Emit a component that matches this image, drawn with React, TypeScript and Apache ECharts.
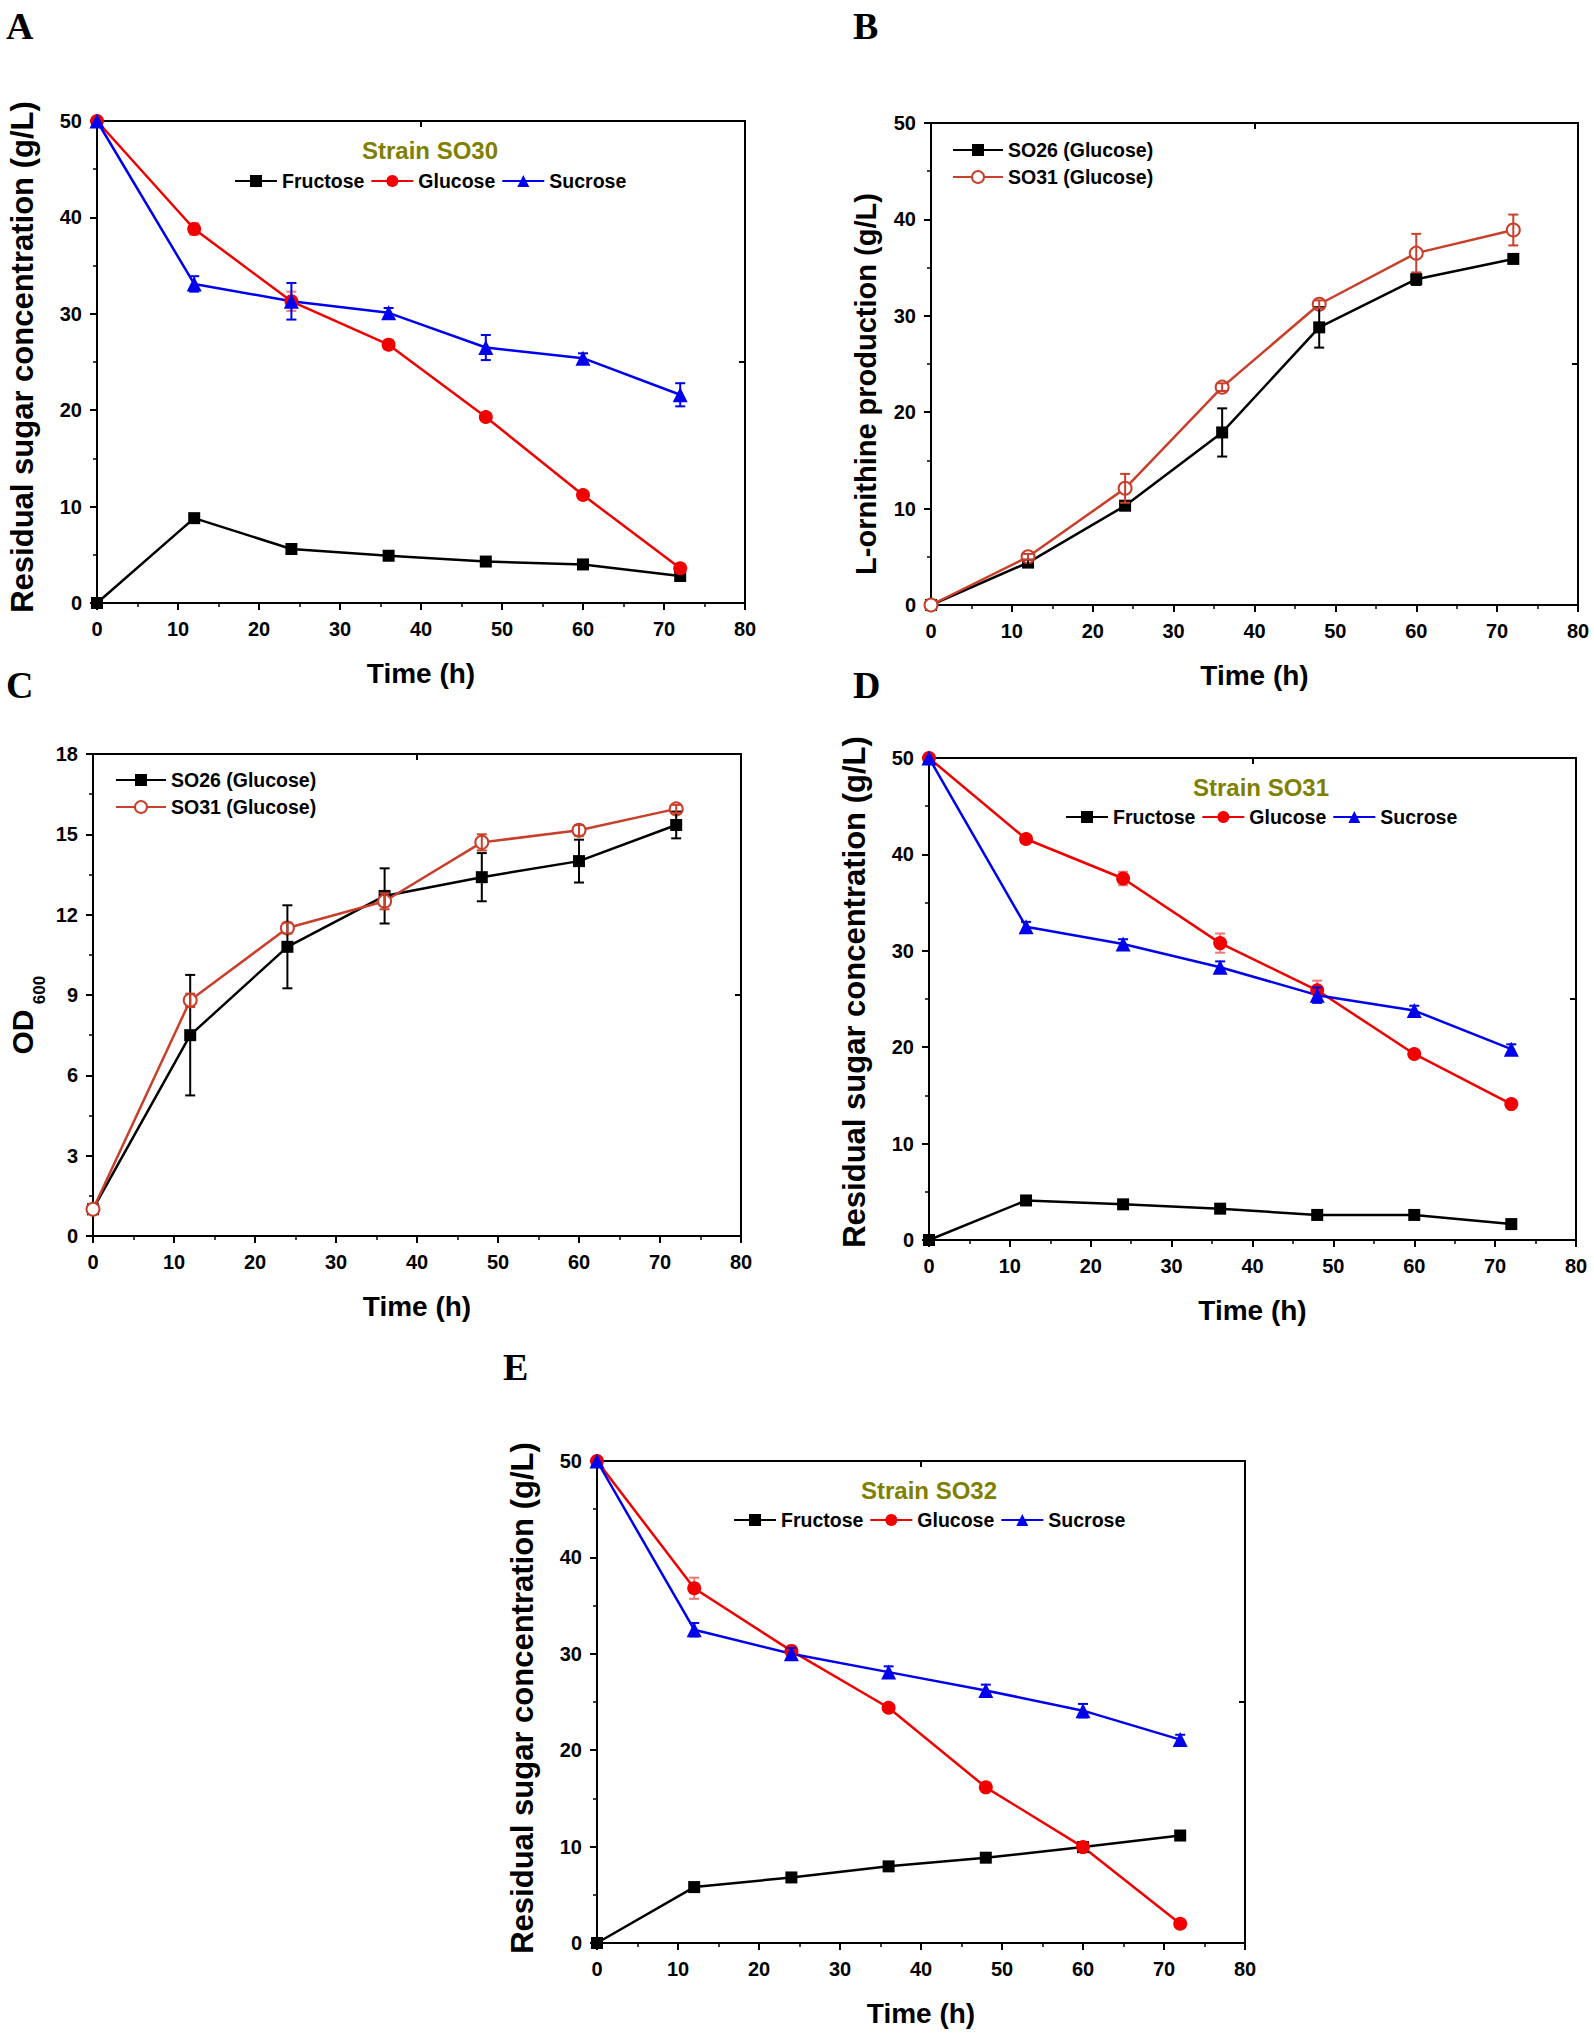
import React, { useEffect, useRef } from 'react';
import * as echarts from 'echarts';

// ---------------- data ----------------
const TIME = [0, 12, 24, 36, 48, 60, 72];
const X_TICKS_MAX = 80;

// Panel A – Strain SO30
const A_FRU = [0, 8.8, 5.6, 4.9, 4.3, 4.0, 2.8];
const A_FRU_ERR = [0, 0.3, 0.3, 0.2, 0.2, 0.2, 0.2];
const A_GLU = [50, 38.8, 31.3, 26.8, 19.3, 11.2, 3.6];
const A_GLU_ERR = [0, 0.6, 1.0, 0.4, 0.3, 0.3, 0.3];
const A_SUC = [50, 33.1, 31.3, 30.1, 26.5, 25.4, 21.6];
const A_SUC_ERR = [0, 0.8, 1.9, 0.5, 1.3, 0.5, 1.2];

// Panel B – L-ornithine production
const B_SO26 = [0, 4.4, 10.3, 17.9, 28.8, 33.8, 35.9];
const B_SO26_ERR = [0, 0.3, 0.4, 2.5, 2.1, 0.6, 0.4];
const B_SO31 = [0, 5.0, 12.1, 22.6, 31.2, 36.5, 38.9];
const B_SO31_ERR = [0, 0.3, 1.5, 0.4, 0.4, 2.0, 1.6];

// Panel C – OD600
const C_SO26 = [1.0, 7.5, 10.8, 12.7, 13.4, 14.0, 15.35];
const C_SO26_ERR = [0, 2.25, 1.55, 1.03, 0.9, 0.8, 0.5];
const C_SO31 = [1.0, 8.8, 11.5, 12.5, 14.7, 15.15, 15.95];
const C_SO31_ERR = [0, 0.25, 0.2, 0.3, 0.3, 0.2, 0.15];

// Panel D – Strain SO31
const D_FRU = [0, 4.1, 3.7, 3.25, 2.6, 2.6, 1.65];
const D_FRU_ERR = [0, 0.2, 0.2, 0.2, 0.2, 0.2, 0.2];
const D_GLU = [50, 41.6, 37.5, 30.8, 25.9, 19.3, 14.1];
const D_GLU_ERR = [0, 0.3, 0.7, 1.0, 1.0, 0.3, 0.3];
const D_SUC = [50, 32.5, 30.7, 28.3, 25.4, 23.8, 19.8];
const D_SUC_ERR = [0, 0.5, 0.5, 0.6, 0.8, 0.5, 0.5];

// Panel E – Strain SO32
const E_FRU = [0, 5.8, 6.8, 7.95, 8.85, 9.95, 11.15];
const E_FRU_ERR = [0, 0.2, 0.2, 0.2, 0.2, 0.2, 0.2];
const E_GLU = [50, 36.8, 30.3, 24.4, 16.15, 9.95, 2.0];
const E_GLU_ERR = [0, 1.1, 0.3, 0.3, 0.3, 0.5, 0.2];
const E_SUC = [50, 32.5, 30.0, 28.1, 26.2, 24.1, 21.1];
const E_SUC_ERR = [0, 0.7, 0.6, 0.6, 0.6, 0.7, 0.5];

const SUGAR_NAMES = ['Fructose', 'Glucose', 'Sucrose'];
const STRAIN_NAMES = ['SO26 (Glucose)', 'SO31 (Glucose)'];
const PANEL_LABELS = ['A', 'B', 'C', 'D', 'E'];
const STRAIN_TITLES = ['Strain SO30', 'Strain SO31', 'Strain SO32'];
const SUGAR_Y_TITLE = 'Residual sugar concentration (g/L)';
const ORN_Y_TITLE = 'L-ornithine production (g/L)';
const X_TITLE = 'Time (h)';

// ---------------- style ----------------
const FONT = '"Liberation Sans", Arial, Helvetica, sans-serif';
const SERIF = '"Liberation Serif", "Times New Roman", serif';
const BLACK = '#000000';
const RED = '#f00000';
const RED_ERR = '#f07878';
const BLUE = '#0000ee';
const BROWN = '#c8402c';
const OLIVE = '#808000';

const GRIDS = [
  { left: 97, top: 121, width: 648, height: 482 },
  { left: 931, top: 123, width: 647, height: 482 },
  { left: 93, top: 754, width: 648, height: 482 },
  { left: 929, top: 758, width: 647, height: 482 },
  { left: 597, top: 1461, width: 648, height: 482 },
];
const Y_RANGES = [
  { max: 50, interval: 10 },
  { max: 50, interval: 10 },
  { max: 18, interval: 3 },
  { max: 50, interval: 10 },
  { max: 50, interval: 10 },
];

const axisLineStyle = { color: BLACK, width: 2 };
const labelStyle = { fontFamily: FONT, fontWeight: 'bold' as const, fontSize: 20, color: BLACK };

function bottomX(g: number) {
  return {
    type: 'value', gridIndex: g, position: 'bottom', min: 0, max: X_TICKS_MAX, interval: 10,
    name: X_TITLE, nameLocation: 'middle', nameGap: 56,
    nameTextStyle: { fontFamily: FONT, fontWeight: 'bold', fontSize: 28, color: BLACK },
    axisLine: { show: true, onZero: false, lineStyle: axisLineStyle },
    axisTick: { show: true, inside: false, length: 7, lineStyle: { color: BLACK, width: 2 } },
    minorTick: { show: true, splitNumber: 2, length: 4, lineStyle: { color: BLACK, width: 1.5 } },
    axisLabel: { ...labelStyle, margin: 16 },
    splitLine: { show: false }, minorSplitLine: { show: false },
  };
}
function topX(g: number) {
  return {
    type: 'value', gridIndex: g, position: 'top', min: 0, max: X_TICKS_MAX, interval: 40,
    axisLine: { show: true, onZero: false, lineStyle: axisLineStyle },
    axisTick: { show: true, inside: true, length: 6, lineStyle: { color: BLACK, width: 2 } },
    axisLabel: { show: false }, splitLine: { show: false },
  };
}
function leftY(g: number) {
  const r = Y_RANGES[g];
  return {
    type: 'value', gridIndex: g, position: 'left', min: 0, max: r.max, interval: r.interval,
    axisLine: { show: true, onZero: false, lineStyle: axisLineStyle },
    axisTick: { show: true, inside: false, length: 7, lineStyle: { color: BLACK, width: 2 } },
    minorTick: { show: true, splitNumber: 2, length: 4, lineStyle: { color: BLACK, width: 1.5 } },
    axisLabel: { ...labelStyle, margin: 15 },
    splitLine: { show: false }, minorSplitLine: { show: false },
  };
}
function rightY(g: number) {
  const r = Y_RANGES[g];
  return {
    type: 'value', gridIndex: g, position: 'right', min: 0, max: r.max, interval: r.max / 2,
    axisLine: { show: true, onZero: false, lineStyle: axisLineStyle },
    axisTick: { show: true, inside: true, length: 6, lineStyle: { color: BLACK, width: 2 } },
    axisLabel: { show: false }, splitLine: { show: false },
  };
}

const pts = (ys: number[]) => TIME.map((t, i) => [t, ys[i]]);
const errPts = (ys: number[], es: number[]) =>
  TIME.map((t, i) => [t, ys[i], es[i]]).filter((d) => d[2] > 0);

function lineSeries(name: string, g: number, ys: number[], color: string, symbol: string, size: number) {
  const hollow = symbol === 'emptyCircle';
  return {
    type: 'line', name, xAxisIndex: 2 * g, yAxisIndex: 2 * g, data: pts(ys),
    symbol, symbolSize: size, showSymbol: true, showAllSymbol: true,
    lineStyle: { color, width: 2.5 },
    itemStyle: hollow ? { color, borderColor: color, borderWidth: 1.5 } : { color, borderWidth: 0 },
    z: 2, silent: true,
  };
}

function errSeries(id: string, g: number, ys: number[], es: number[], color: string, z = 3) {
  return {
    type: 'custom', name: id, xAxisIndex: 2 * g, yAxisIndex: 2 * g,
    data: errPts(ys, es), encode: { x: 0, y: 1 }, z, silent: true,
    renderItem: (_p: any, api: any) => {
      const x = api.value(0);
      const y = api.value(1);
      const e = api.value(2);
      const a = api.coord([x, y + e]);
      const b = api.coord([x, y - e]);
      const hw = 5;
      const st = { stroke: color, lineWidth: 2 };
      return {
        type: 'group',
        children: [
          { type: 'line', shape: { x1: a[0], y1: a[1], x2: b[0], y2: b[1] }, style: st },
          { type: 'line', shape: { x1: a[0] - hw, y1: a[1], x2: a[0] + hw, y2: a[1] }, style: st },
          { type: 'line', shape: { x1: b[0] - hw, y1: b[1], x2: b[0] + hw, y2: b[1] }, style: st },
        ],
      };
    },
  };
}

const legendText = { fontFamily: FONT, fontWeight: 'bold', fontSize: 19.5, color: BLACK, lineHeight: 22 };

function sugarLegend(left: number, top: number) {
  return {
    data: SUGAR_NAMES, left, top, orient: 'horizontal', itemWidth: 42, itemHeight: 15, itemGap: 6,
    padding: 0, selectedMode: false, textStyle: legendText,
  };
}
function strainLegend(left: number, top: number) {
  return {
    data: STRAIN_NAMES, left, top, orient: 'vertical', itemWidth: 50, itemHeight: 15, itemGap: 5,
    padding: 0, selectedMode: false, textStyle: legendText,
  };
}

function txt(text: string, x: number, y: number, font: string, color: string, rotate = false, align = 'center') {
  return {
    type: 'text', x, y, rotation: rotate ? Math.PI / 2 : 0, silent: true,
    style: { text, font, fill: color, align, verticalAlign: 'middle', textAlign: align, textVerticalAlign: 'middle' },
  };
}

function buildOption() {
  const xAxis: any[] = [];
  const yAxis: any[] = [];
  GRIDS.forEach((_, g) => {
    xAxis.push(bottomX(g), topX(g));
    yAxis.push(leftY(g), rightY(g));
  });

  const series: any[] = [
    // A
    lineSeries('Fructose', 0, A_FRU, BLACK, 'rect', 12),
    lineSeries('Glucose', 0, A_GLU, RED, 'circle', 14),
    lineSeries('Sucrose', 0, A_SUC, BLUE, 'triangle', 15),
    errSeries('eAf', 0, A_FRU, A_FRU_ERR, BLACK, 1),
    errSeries('eAg', 0, A_GLU, A_GLU_ERR, RED_ERR, 1),
    errSeries('eAs', 0, A_SUC, A_SUC_ERR, BLUE),
    // B
    lineSeries('SO26 (Glucose)', 1, B_SO26, BLACK, 'rect', 12),
    lineSeries('SO31 (Glucose)', 1, B_SO31, BROWN, 'emptyCircle', 13),
    errSeries('eB26', 1, B_SO26, B_SO26_ERR, BLACK),
    errSeries('eB31', 1, B_SO31, B_SO31_ERR, BROWN),
    // C
    lineSeries('SO26 (Glucose)', 2, C_SO26, BLACK, 'rect', 12),
    lineSeries('SO31 (Glucose)', 2, C_SO31, BROWN, 'emptyCircle', 13),
    errSeries('eC26', 2, C_SO26, C_SO26_ERR, BLACK),
    errSeries('eC31', 2, C_SO31, C_SO31_ERR, BROWN),
    // D
    lineSeries('Fructose', 3, D_FRU, BLACK, 'rect', 12),
    lineSeries('Glucose', 3, D_GLU, RED, 'circle', 14),
    lineSeries('Sucrose', 3, D_SUC, BLUE, 'triangle', 15),
    errSeries('eDf', 3, D_FRU, D_FRU_ERR, BLACK, 1),
    errSeries('eDg', 3, D_GLU, D_GLU_ERR, RED_ERR, 1),
    errSeries('eDs', 3, D_SUC, D_SUC_ERR, BLUE),
    // E
    lineSeries('Fructose', 4, E_FRU, BLACK, 'rect', 12),
    lineSeries('Glucose', 4, E_GLU, RED, 'circle', 14),
    lineSeries('Sucrose', 4, E_SUC, BLUE, 'triangle', 15),
    errSeries('eEf', 4, E_FRU, E_FRU_ERR, BLACK, 1),
    errSeries('eEg', 4, E_GLU, E_GLU_ERR, RED_ERR, 1),
    errSeries('eEs', 4, E_SUC, E_SUC_ERR, BLUE),
  ];

  const labelFont = `bold 38px ${SERIF}`;
  const titleFont = `bold 24px ${FONT}`;
  const yFont = `bold 31px ${FONT}`;
  const graphic: any[] = [
    txt(PANEL_LABELS[0], 6, 26, labelFont, BLACK, false, 'left'),
    txt(PANEL_LABELS[1], 853, 26, labelFont, BLACK, false, 'left'),
    txt(PANEL_LABELS[2], 6, 685, labelFont, BLACK, false, 'left'),
    txt(PANEL_LABELS[3], 853, 685, labelFont, BLACK, false, 'left'),
    txt(PANEL_LABELS[4], 503, 1367, labelFont, BLACK, false, 'left'),
    txt(STRAIN_TITLES[0], 430, 150, titleFont, OLIVE),
    txt(STRAIN_TITLES[1], 1261, 787, titleFont, OLIVE),
    txt(STRAIN_TITLES[2], 929, 1490, titleFont, OLIVE),
    txt(SUGAR_Y_TITLE, 22, 357, yFont, BLACK, true),
    txt(ORN_Y_TITLE, 866, 384, `bold 29px ${FONT}`, BLACK, true),
    txt(SUGAR_Y_TITLE, 854, 992, yFont, BLACK, true),
    txt(SUGAR_Y_TITLE, 522, 1698, yFont, BLACK, true),
    txt('OD', 22, 1032, `bold 30px ${FONT}`, BLACK, true),
    txt('600', 39, 990, `bold 17px ${FONT}`, BLACK, true),
  ];

  return {
    animation: false,
    backgroundColor: '#ffffff',
    grid: GRIDS.map((g) => ({ ...g, containLabel: false })),
    xAxis,
    yAxis,
    legend: [
      sugarLegend(234, 170),
      strainLegend(952, 139),
      strainLegend(115, 769),
      sugarLegend(1065, 806),
      sugarLegend(733, 1509),
    ],
    series,
    graphic,
  };
}

export default function App() {
  const ref = useRef<HTMLDivElement>(null);
  useEffect(() => {
    if (!ref.current) return;
    const chart = echarts.init(ref.current, undefined, { renderer: 'svg' });
    chart.setOption(buildOption() as any);
    return () => chart.dispose();
  }, []);
  return (
    <div
      ref={ref}
      style={{ position: 'absolute', left: 0, top: 0, width: 1594, height: 2033, background: '#fff' }}
    />
  );
}
